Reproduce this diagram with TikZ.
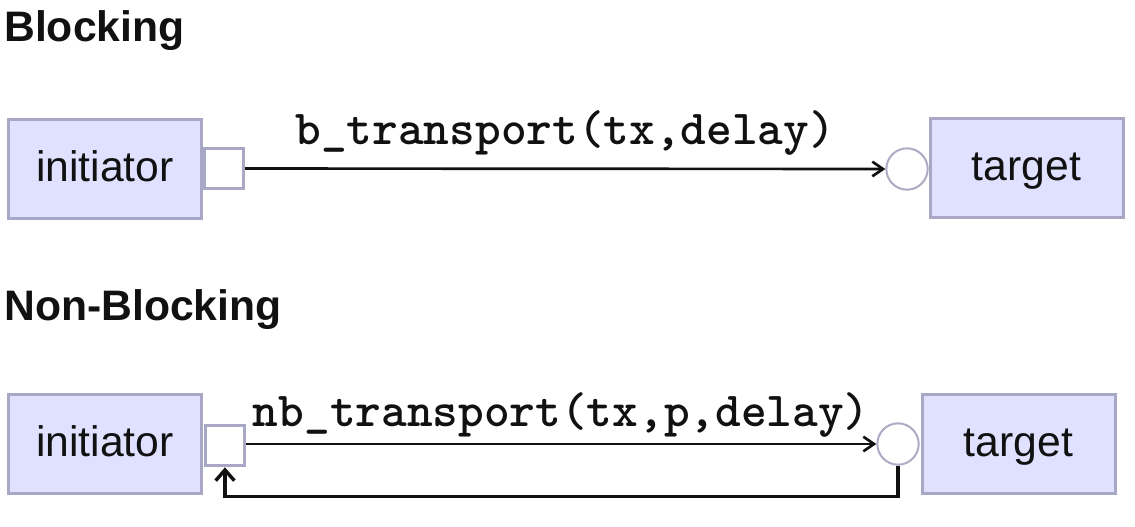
\documentclass[tikz,border=0pt]{standalone}
\usepackage{fontspec}
\setmainfont{Liberation Sans}
\usetikzlibrary{arrows.meta}
\definecolor{ink}{HTML}{111111}
\definecolor{boxfill}{HTML}{E0E0FF}
\definecolor{boxborder}{HTML}{A8A8C6}
\definecolor{portborder}{HTML}{ABABC4}
\tikzset{
  module/.style={draw=boxborder,fill=boxfill,line width=2.25pt,
    minimum width=144.75pt,minimum height=74pt,inner sep=0pt,
    text height=23pt,text depth=4.8pt,
    font=\fontsize{32}{36}\selectfont,text=ink},
  port/.style={draw=boxborder,fill=white,line width=2.25pt,
    minimum width=29.5pt,minimum height=30.5pt,inner sep=0pt},
  socket/.style={circle,draw=portborder,fill=white,line width=1.5pt,
    minimum size=31pt,inner sep=0pt},
  call/.style={-{Straight Barb[length=8pt,width=11pt,line width=2pt]},draw=ink,line width=2pt},
  return/.style={-{Straight Barb[length=8pt,width=14pt,line width=2.6pt]},draw=ink,line width=2.6pt},
  call label/.style={anchor=base,inner sep=0pt,text=ink,
    font=\ttfamily\bfseries\fontsize{36.7}{40}\selectfont},
  heading/.style={anchor=base west,inner sep=0pt,text=ink,
    font=\bfseries\fontsize{32}{36}\selectfont},
}
\begin{document}
\begin{tikzpicture}[x=0.75pt,y=-0.75pt]
  \useasboundingbox (0,0) rectangle (1135,526);

  % blocking transport: one call, returns when done
  \node[heading] (hblk) at (4,41) {Blocking};
  \node[module] (ini1) at (105,169) {initiator};
  \node[port] (port1) at (224,168.5) {};
  \node[module] (tgt1) at (1026.5,168) {target};
  \node[socket] (sock1) at (907,169) {};
  \draw[call] (port1) -- node[call label,yshift=18pt] {b\_transport(tx,delay)} (sock1);

  % non-blocking transport: forward call plus backward path
  \node[heading] (hnb) at (4,320) {Non-Blocking};
  \node[module] (ini2) at (105,444) {initiator};
  \node[port] (port2) at (225,445.5) {};
  \node[module] (tgt2) at (1018.5,444) {target};
  \node[socket] (sock2) at (898,444) {};
  \draw[call] (port2.east |- sock2) -- node[call label,yshift=13.5pt] {nb\_transport(tx,p,delay)} (sock2);
  \draw[return] (sock2.south) -- ++(0,31) -| (port2.south);
\end{tikzpicture}
\end{document}
